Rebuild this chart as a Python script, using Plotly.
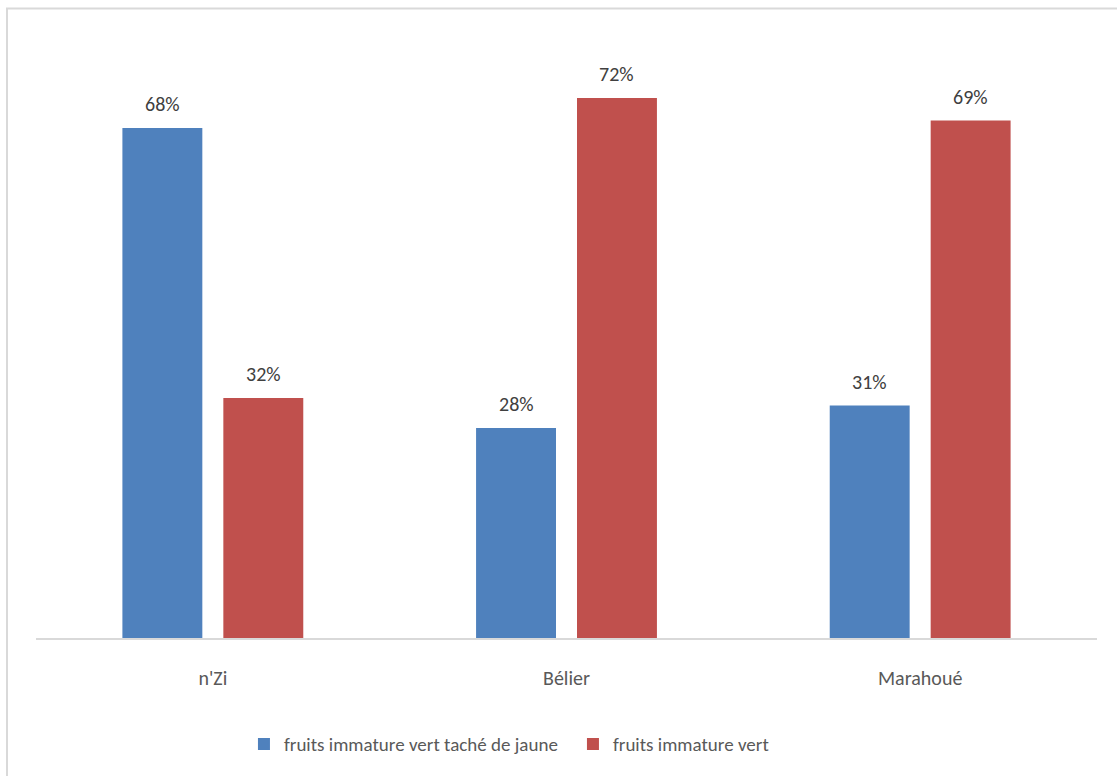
import plotly.graph_objects as go

categories = ["n'Zi", "Bélier", "Marahoué"]
series_names = ["fruits immature vert taché de jaune", "fruits immature vert"]
blue_values = [0.68, 0.28, 0.31]
red_values = [0.32, 0.72, 0.69]

FONT = "Carlito, Lato, 'Open Sans', sans-serif"
FS = 20
BAR_W = 0.226
OFFSETS = [-0.2557, 0.0297]
COLORS = ["#4F81BD", "#C0504D"]
CAT_PX = 1061 / 3

fig = go.Figure()
annotations = []
for name, vals, color, off in zip(series_names, [blue_values, red_values], COLORS, OFFSETS):
    fig.add_trace(go.Bar(
        x=categories, y=vals, name=name,
        marker=dict(color=color, line=dict(width=0)),
        width=BAR_W, offset=off,
        hoverinfo="x+y",
    ))
    shift = (off + BAR_W / 2) * CAT_PX
    for c, v in zip(categories, vals):
        annotations.append(dict(
            x=c, y=v, xref="x", yref="y", text=f"{round(v * 100)}%",
            showarrow=False, xshift=shift, yshift=24, yanchor="middle",
            font=dict(size=FS, color="#404040", family=FONT),
        ))

fig.update_layout(
    width=1117, height=776,
    margin=dict(l=36, r=20, t=38, b=138),
    paper_bgcolor="white", plot_bgcolor="white",
    font=dict(family=FONT, size=FS, color="#595959"),
    barmode="group",
    showlegend=True,
    legend=dict(
        orientation="h", x=0.196, xanchor="left", y=-0.177, yanchor="middle",
        font=dict(size=19, color="#595959", family=FONT),
        entrywidth=284, entrywidthmode="pixels",
        itemclick=False, bgcolor="rgba(0,0,0,0)",
    ),
    xaxis=dict(
        showline=True, linecolor="#D9D9D9", linewidth=1.5,
        showgrid=False, ticks="", ticklabelstandoff=21,
        tickfont=dict(size=FS, color="#595959", family=FONT),
    ),
    yaxis=dict(range=[0, 0.8], visible=False, showgrid=False),
    annotations=annotations,
    shapes=[dict(
        type="rect", xref="paper", yref="paper",
        x0=-29/1061, x1=1.2, y0=-0.5, y1=(638-8.5)/600,
        line=dict(color="#D9D9D9", width=2), layer="below",
    )],
)

fig.write_html("out.html")
